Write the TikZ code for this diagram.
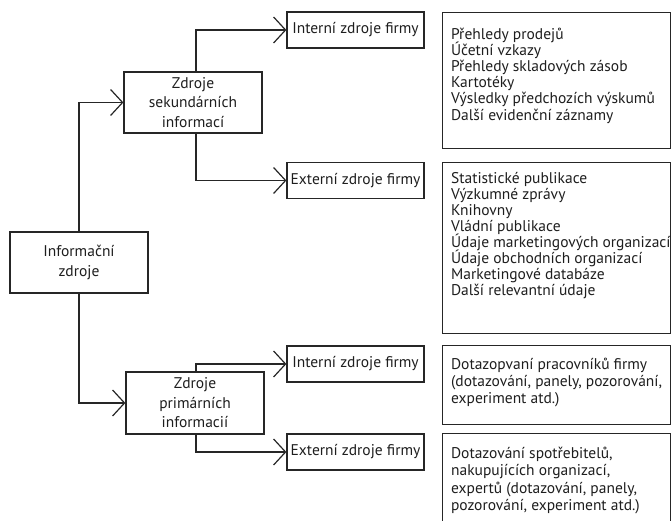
\documentclass[tikz,border=0pt]{standalone}
\usepackage{fontspec}
\setmainfont{PT Sans}
\usetikzlibrary{arrows.meta}
\definecolor{ink}{HTML}{1E1E1E}
\definecolor{rule}{HTML}{262626}
% list of items, top-aligned in a box of fixed size
% #1 width, #2 height, #3 baseline of first line, #4 leading, #5 lines
\newcommand{\itemlist}[5]{%
  \parbox[c][#2][t]{#1}{\fontsize{15.5}{#4}\selectfont\lineskiplimit=-100pt
    \raggedright\leftskip=8.5pt\rule{0pt}{#3}#5}}
\begin{document}
\begin{tikzpicture}[x=1pt,y=-1pt,
  every node/.style={text=ink},
  box/.style={draw=rule, line width=1.2pt, align=center, inner sep=0pt,
    font=\fontsize{15.5}{19.5}\selectfont},
  srcbox/.style={box, minimum width=137pt, minimum height=36pt},
  listbox/.style={draw=rule, line width=1.2pt, inner sep=0pt, anchor=north west},
  arr/.style={draw=rule, line width=1.2pt,
    -{Straight Barb[length=12pt,width=26pt,line width=1.2pt]}}
]
\clip (0,0) rectangle (672,521);

% main boxes
\node[box, minimum width=138pt, minimum height=61pt] (info) at (79,262.5)
  {Informační\\zdroje};
\node[box, minimum width=138pt, minimum height=61pt] (sek) at (193,102.5)
  {Zdroje\\sekundárních\\informací};
\node[box, minimum width=138pt, minimum height=62pt] (prim) at (195,403)
  {Zdroje\\primárních\\informacií};

% source boxes
\node[srcbox] (i1) at (355.5,30)    {Interní zdroje firmy};
\node[srcbox] (e1) at (355.5,180.5) {Externí zdroje firmy};
\node[srcbox] (i2) at (355.5,364)   {Interní zdroje firmy};
\node[srcbox] (e2) at (355.5,452)   {Externí zdroje firmy};

% item lists
\node[listbox] (l1) at (442,12) {\itemlist{228pt}{136pt}{27pt}{16.1}{%
  Přehledy prodejů\\Účetní vzkazy\\Přehledy skladových zásob\\Kartotéky\\%
  Výsledky předchozích výskumů\\Další evidenční záznamy}};
\node[listbox] (l2) at (442,162) {\itemlist{228pt}{171pt}{21pt}{16}{%
  Statistické publikace\\Výzkumné zprávy\\Knihovny\\Vládní publikace\\%
  Údaje marketingových organizací\\Údaje obchodních organizací\\%
  Marketingové databáze\\Další relevantní údaje}};
\node[listbox] (l3) at (442,345) {\itemlist{228pt}{79pt}{23.5pt}{17}{%
  Dotazopvaní pracovníků firmy\\(dotazování, panely, pozorování,\\%
  experiment atd.)}};
\node[listbox] (l4) at (442,433) {\itemlist{228pt}{110pt}{25pt}{17.2}{%
  Dotazování spotřebitelů,\\nakupujících organizací,\\%
  expertů (dotazování, panely,\\pozorování, experiment atd.)}};

% branch column
\coordinate (bx) at (196,0);

% connectors
\draw[arr] (info.north) |- (sek.west);
\draw[arr] (info.south) |- (prim.west);
\draw[arr] (sek.north -| bx) |- (i1.west);
\draw[arr] (sek.south -| bx) |- (e1.west);
\draw[arr] (prim.north -| bx) |- (i2.west);
\draw[arr] (prim.south -| bx) |- (e2.west);
\end{tikzpicture}
\end{document}
